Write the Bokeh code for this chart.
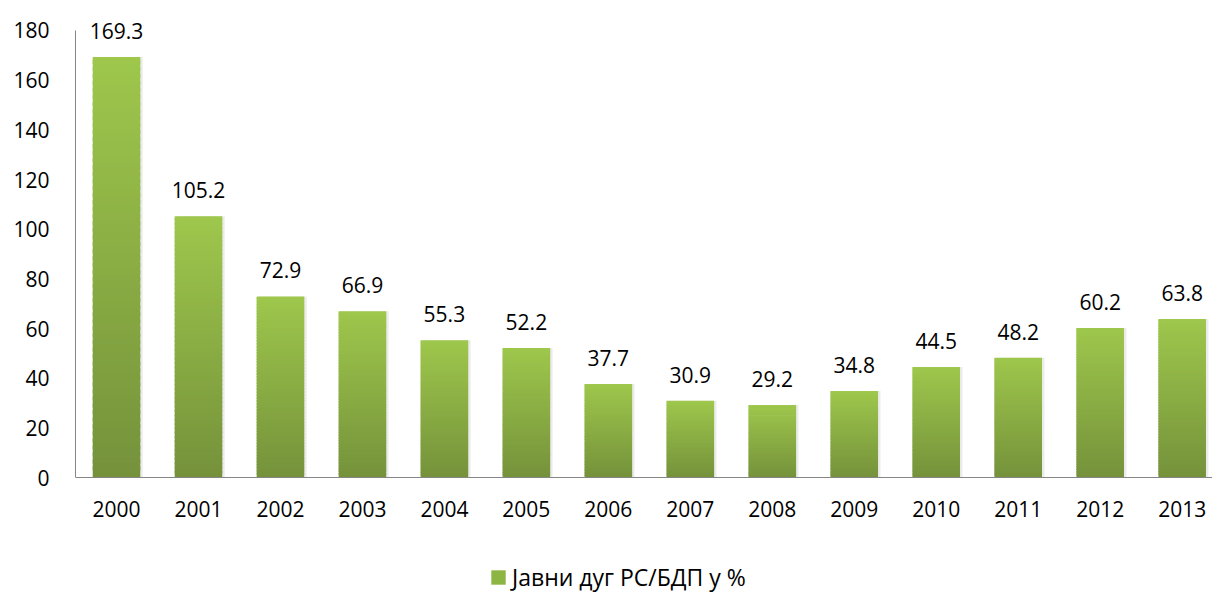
import numpy as np
from bokeh.plotting import figure
from bokeh.models import Range1d, FixedTicker, ColumnDataSource, LabelSet, Legend, LegendItem
from bokeh.core.properties import value
from bokeh.embed import file_html
from bokeh.resources import INLINE

years = ["2000", "2001", "2002", "2003", "2004", "2005", "2006",
         "2007", "2008", "2009", "2010", "2011", "2012", "2013"]
debt = [169.3, 105.2, 72.9, 66.9, 55.3, 52.2, 37.7,
        30.9, 29.2, 34.8, 44.5, 48.2, 60.2, 63.8]
y_ticks = [0, 20, 40, 60, 80, 100, 120, 140, 160, 180]
series_name = "Јавни дуг РС/БДП у %"

FONT = "Open Sans"
top_rgb = np.array([158, 199, 76])
bot_rgb = np.array([117, 146, 59])
BAR_W = 0.58
N = 60

xs = list(range(len(years)))

p = figure(width=1212, height=594, output_backend="svg", toolbar_location=None,
           x_range=Range1d(-0.5, 13.37), y_range=Range1d(-47.11, 192.08),
           min_border_left=75, min_border_right=0, min_border_top=0, min_border_bottom=0)
p.outline_line_color = None
p.xgrid.visible = False
p.ygrid.visible = False
p.background_fill_color = "white"
p.border_fill_color = "white"

# shadow
sh = ColumnDataSource(dict(x=[x + 0.03 for x in xs], top=debt))
p.vbar(x="x", top="top", bottom=0, width=BAR_W, source=sh,
       fill_color="#000000", fill_alpha=0.08, line_color=None)

# gradient bars built from slices of each data bar
sx, sb, st, sc = [], [], [], []
for x, v in zip(xs, debt):
    for k in range(N):
        frac = (k + 0.5) / N
        rgb = bot_rgb + (top_rgb - bot_rgb) * frac
        sx.append(x)
        sb.append(v * k / N)
        st.append(min(v, v * (k + 1.6) / N))
        sc.append("#%02x%02x%02x" % tuple(int(round(c)) for c in rgb))
src = ColumnDataSource(dict(x=sx, bottom=sb, top=st, color=sc))
p.vbar(x="x", bottom="bottom", top="top", width=BAR_W, source=src,
       fill_color="color", line_color=None)

# data labels
lab = ColumnDataSource(dict(x=xs, y=debt, t=["%.1f" % v for v in debt]))
p.add_layout(LabelSet(x="x", y="y", text="t", source=lab, y_offset=18,
                      text_align="center", text_baseline="bottom",
                      text_font=value(FONT), text_font_size="21px", text_color="#000000"))

# axes
for ax in (p.xaxis[0], p.yaxis[0]):
    ax.axis_line_color = "#868686"
    ax.axis_line_width = 1
    ax.major_tick_line_color = None
    ax.minor_tick_line_color = None
    ax.major_tick_out = 0
    ax.major_tick_in = 0
    ax.major_label_text_font = FONT
    ax.major_label_text_font_size = "21px"
    ax.major_label_text_color = "#000000"

p.yaxis[0].ticker = FixedTicker(ticks=y_ticks)
p.yaxis[0].bounds = (0, 180)
p.yaxis[0].major_label_standoff = 26
p.xaxis[0].ticker = FixedTicker(ticks=xs)
p.xaxis[0].major_label_overrides = {i: y for i, y in enumerate(years)}
p.xaxis[0].major_label_standoff = 23
p.xaxis[0].fixed_location = 0

# legend (proxy renderer of zero height so the legend swatch is drawn)
leg_src = ColumnDataSource(dict(x=[xs[0]], top=[0], bottom=[0]))
leg_r = p.vbar(x="x", top="top", bottom="bottom", width=BAR_W, source=leg_src,
               fill_color="#8db543", line_color=None)
legend = Legend(items=[LegendItem(label=series_name, renderers=[leg_r])],
                location=(414, 1), orientation="horizontal",
                label_text_font=FONT, label_text_font_size="23px",
                label_text_color="#000000", glyph_width=18, glyph_height=18,
                label_standoff=5, padding=0, margin=0, spacing=0,
                border_line_color=None, background_fill_alpha=0)
p.add_layout(legend, "center")

open("out.html", "w").write(file_html(p, INLINE))
